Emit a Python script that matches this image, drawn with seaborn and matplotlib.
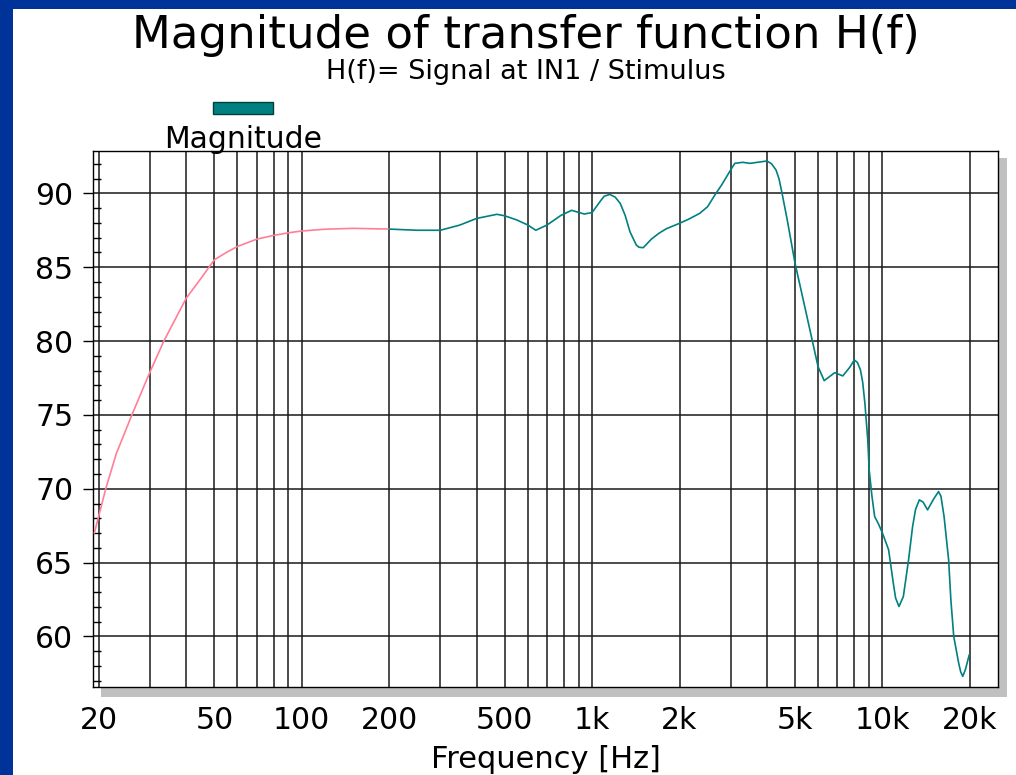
import numpy as np
import pandas as pd
import matplotlib
matplotlib.use("Agg")
import matplotlib.pyplot as plt
from matplotlib.patches import Rectangle
from matplotlib.ticker import NullLocator, FixedLocator
import seaborn as sns

# ---------------- data ----------------
low_freq = [19.3, 21.2, 23, 26, 30, 33.5, 40, 45, 50, 55, 60, 70, 80, 90, 100, 120, 150, 200]
low_mag = [67.0, 70.1, 72.4, 75.0, 77.9, 80.0, 82.9, 84.25, 85.5, 86.0, 86.4, 86.9, 87.15,
           87.33, 87.45, 87.57, 87.63, 87.58]

high_freq = [200, 250, 300, 350, 400, 470, 500, 550, 600, 640, 700, 780, 850, 940, 1000,
             1070, 1100, 1150, 1200, 1250, 1300, 1350, 1420, 1450, 1500, 1600, 1700, 1800,
             2000, 2150, 2350, 2500, 2650, 2800, 2900, 3000, 3100, 3300, 3500, 4000, 4150,
             4300, 4400, 4500, 4700, 5000, 5400, 6000, 6300, 6850, 7300, 7700, 8000, 8200,
             8400, 8550, 8700, 8900, 9000, 9200, 9400, 9700, 10000, 10500, 10900, 11100,
             11400, 11800, 12000, 12300, 12700, 13000, 13400, 13800, 14300, 15000, 15600,
             15900, 16300, 16900, 17200, 17600, 18300, 18600, 18900, 19300, 19900]
high_mag = [87.58, 87.5, 87.5, 87.85, 88.3, 88.58, 88.48, 88.2, 87.86, 87.5, 87.86, 88.5,
            88.85, 88.6, 88.7, 89.5, 89.8, 89.93, 89.75, 89.32, 88.5, 87.4, 86.5, 86.35,
            86.32, 86.9, 87.3, 87.6, 87.97, 88.25, 88.65, 89.1, 89.9, 90.6, 91.1, 91.58,
            92.03, 92.1, 92.03, 92.19, 92.0, 91.58, 91.0, 90.1, 88.2, 85.26, 82.33, 78.27,
            77.32, 77.86, 77.64, 78.2, 78.72, 78.55, 78.04, 77.2, 75.79, 73.3, 71.28, 69.5,
            68.12, 67.6, 67.0, 65.87, 63.6, 62.6, 62.03, 62.7, 63.7, 65.19, 67.44, 68.6,
            69.25, 69.1, 68.57, 69.3, 69.81, 69.5, 68.12, 65.19, 62.5, 60.0, 58.2, 57.6, 57.3,
            57.75, 58.76]

grid_freqs = [20, 30, 40, 50, 60, 70, 80, 90, 100, 200, 300, 400, 500, 600, 700, 800, 900,
              1000, 2000, 3000, 4000, 5000, 6000, 7000, 8000, 9000, 10000, 20000]
labelled_freqs = [20, 50, 100, 200, 500, 1000, 2000, 5000, 10000, 20000]
x_tick_labels = ["20", "50", "100", "200", "500", "1k", "2k", "5k", "10k", "20k"]
y_major = [60, 65, 70, 75, 80, 85, 90]
y_minor = list(range(57, 93))

title = "Magnitude of transfer function H(f)"
subtitle = "H(f)= Signal at IN1 / Stimulus"
legend_label = "Magnitude"
x_label = "Frequency [Hz]"

# ---------------- figure ----------------
sns.set_style("white")
plt.rcParams["font.family"] = ["DejaVu Sans"]
plt.rcParams["text.color"] = "black"
plt.rcParams["axes.labelcolor"] = "black"
plt.rcParams["xtick.color"] = "black"
plt.rcParams["ytick.color"] = "black"

W, H = 1016, 775
fig = plt.figure(figsize=(W / 100, H / 100), dpi=100)
fig.patch.set_facecolor("white")

def fx(px):
    return px / W

def fy(py):
    return (H - py) / H

# blue frame strips
fig.add_artist(Rectangle((0, 0), fx(13), 1, transform=fig.transFigure,
                         facecolor="#003399", edgecolor="none", zorder=0))
fig.add_artist(Rectangle((0, fy(9)), 1, 1 - fy(9), transform=fig.transFigure,
                         facecolor="#003399", edgecolor="none", zorder=0))

# shadow
fig.add_artist(Rectangle((fx(101), fy(697)), fx(1007) - fx(101), fy(158) - fy(697),
                         transform=fig.transFigure, facecolor="#c0c0c0",
                         edgecolor="none", zorder=0))

ax = fig.add_axes([fx(93), fy(687), fx(998) - fx(93), fy(150.5) - fy(687)])
ax.set_facecolor("white")
ax.set_zorder(1)

low_df = pd.DataFrame({"freq": low_freq, "mag": low_mag})
high_df = pd.DataFrame({"freq": high_freq, "mag": high_mag})
sns.lineplot(data=low_df, x="freq", y="mag", ax=ax, color="#ff8096", lw=1.2,
             estimator=None, sort=False, zorder=5)
sns.lineplot(data=high_df, x="freq", y="mag", ax=ax, color="#008080", lw=1.2,
             estimator=None, sort=False, zorder=5)

ax.set_xscale("log")
ax.set_xlim(19.1, 25000)
ax.set_ylim(56.58, 92.9)

lab_map = dict(zip(labelled_freqs, x_tick_labels))
ax.xaxis.set_major_locator(FixedLocator(grid_freqs))
ax.set_xticks(grid_freqs, labels=[lab_map.get(f, "") for f in grid_freqs])
ax.xaxis.set_minor_locator(NullLocator())
ax.set_yticks(y_major)
ax.yaxis.set_minor_locator(FixedLocator(y_minor))

ax.grid(True, which="major", color="#1a1a1a", lw=1.1)
ax.set_axisbelow(True)

ax.tick_params(axis="x", which="major", length=0, pad=14, labelsize=21.5, colors="black")
ax.tick_params(axis="y", which="major", direction="out", length=7.2, width=1.0,
               pad=7, labelsize=21.5, colors="black", left=True)
ax.tick_params(axis="y", which="minor", direction="in", length=6, width=1.0,
               left=True, color="black")

for s in ax.spines.values():
    s.set_visible(True)
    s.set_color("black")
    s.set_linewidth(1.0)

ax.set_xlabel(x_label, fontsize=22, labelpad=7, color="black")
ax.set_ylabel("")

# titles
fig.text(fx(526), fy(48), title, ha="center", va="baseline", fontsize=32.5, color="black")
fig.text(fx(526), fy(79), subtitle, ha="center", va="baseline", fontsize=19.5, color="black")

# legend
fig.add_artist(Rectangle((fx(213), fy(114)), fx(273) - fx(213), fy(102) - fy(114),
                         transform=fig.transFigure, facecolor="#008080",
                         edgecolor="#004040", lw=1.0, zorder=3))
fig.text(fx(243), fy(148), legend_label, ha="center", va="baseline", fontsize=21.5,
         zorder=4, color="black")

fig.savefig("out.png", dpi=100)
